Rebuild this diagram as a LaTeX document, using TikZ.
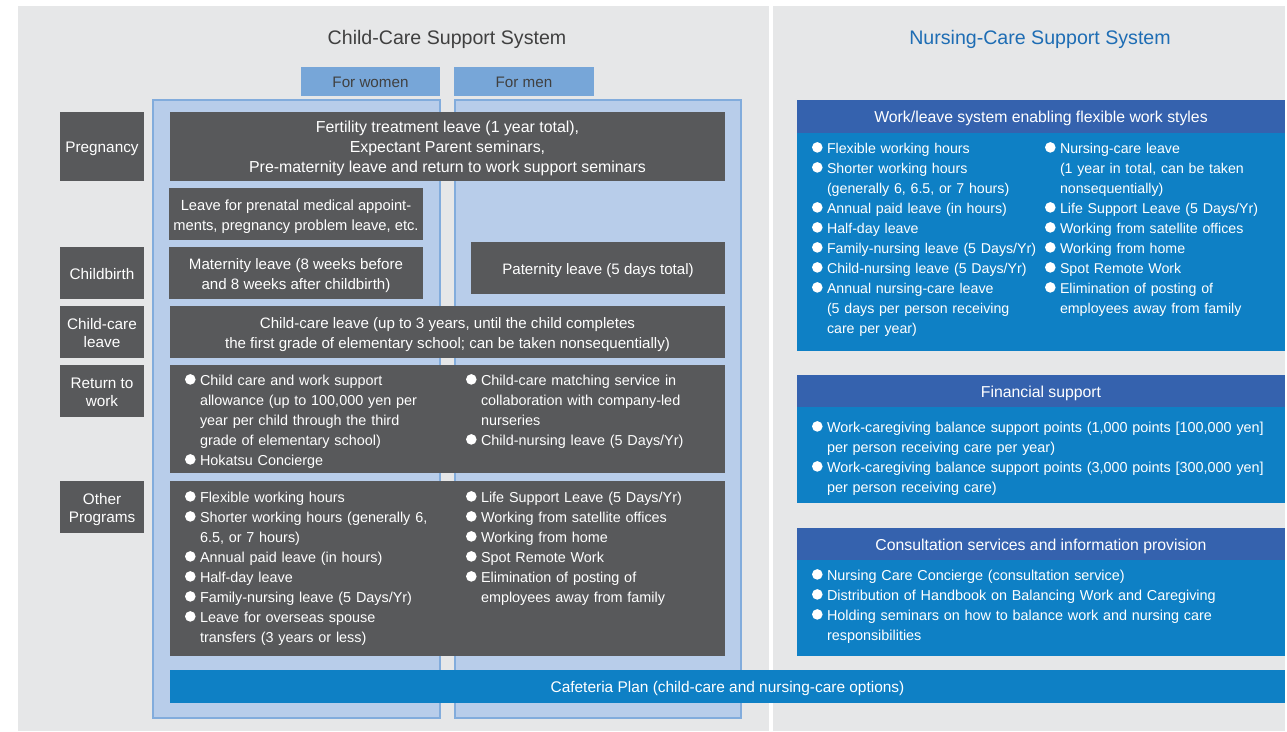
\documentclass[tikz,border=0pt]{standalone}
\usepackage{fontspec}
\setmainfont{Liberation Sans}
\definecolor{bggray}{HTML}{E6E7E8}
\definecolor{darkbox}{HTML}{58595B}
\definecolor{colfill}{HTML}{B8CDEA}
\definecolor{colline}{HTML}{82ACDC}
\definecolor{hdrblue}{HTML}{77A6D8}
\definecolor{navy}{HTML}{3562AE}
\definecolor{midblue}{HTML}{0E80C5}
\definecolor{titlegray}{HTML}{404040}
\definecolor{titleblue}{HTML}{1E6DB4}
\newcommand\fs[2]{\fontsize{#1}{#2}\selectfont}
\newcommand\bdot{\tikz[baseline=0pt]\fill[white] (5.3pt,5.6pt) circle (5.3pt);}
\newcommand\bitem[1]{\hangindent=15pt\hangafter=1\noindent\makebox[15pt][l]{\bdot}#1\par}
\newcommand\topstrut{\rule{0pt}{17pt}}
\newcommand\botstrut{\rule[-5pt]{0pt}{5pt}}
\newcommand\bx[7]{\node[#1,anchor=north west,minimum width=#5pt,minimum height=#6pt] (#2) at (#3,#4) {#7};}
\newcommand\tbx[7]{\node[#1,anchor=north west,minimum width=#5pt,minimum height=#6pt] (#2) at (#3,#4) {\topstrut#7\botstrut};}
\tikzset{
  plain/.style={inner sep=0pt,outer sep=0pt},
  bgpanel/.style={plain,fill=bggray},
  column/.style={plain,fill=colfill,draw=colline,line width=1.3pt},
  forhdr/.style={plain,fill=hdrblue,text=titlegray,font=\fs{15.2}{18}},
  dbox/.style={plain,fill=darkbox,text=white,align=center,font=\fs{15.1}{20}},
  ebox/.style={plain,fill=darkbox},
  lbox/.style={plain,fill=darkbox,text=white,align=center,font=\fs{15.3}{18}},
  nhead/.style={plain,fill=navy,text=white,font=\fs{15.8}{20}},
  nbody/.style={plain,fill=midblue},
  cafe/.style={plain,fill=midblue,text=white,font=\fs{15.45}{20}},
  blist/.style={plain,anchor=base west,text=white,align=left,font=\fs{14.4}{20}},
}
\begin{document}
\begin{tikzpicture}[x=1pt,y=-1pt]
\useasboundingbox (0,0) rectangle (1287,731);
% panels
\bx{bgpanel}{bgL}{18}{6}{751}{725}{}
\bx{bgpanel}{bgR}{773}{6}{512}{725}{}
% titles
\node[plain,anchor=base,text=titlegray,font=\fs{19.6}{24}] (tL) at (447,44) {Child-Care Support System};
\node[plain,anchor=base,text=titleblue,font=\fs{19.6}{24}] (tR) at (1040,44) {Nursing-Care Support System};
% columns
\bx{column}{colW}{153}{100}{287}{618}{}
\bx{column}{colM}{455}{100}{286}{618}{}
\tbx{forhdr}{hW}{301}{67}{139}{29}{For women}
\tbx{forhdr}{hM}{454}{67}{140}{29}{For men}
% left labels
\tbx{lbox}{lPreg}{60}{112}{84}{69}{Pregnancy}
\tbx{lbox}{lBirth}{60}{247}{84}{52}{Childbirth}
\tbx{lbox}{lCCL}{60}{306}{84}{52}{Child-care\\leave}
\tbx{lbox}{lRet}{60}{365}{84}{52}{Return to\\work}
\tbx{lbox}{lOther}{60}{481}{84}{52}{Other\\Programs}
% dark boxes
\tbx{dbox,font=\fs{15.9}{20}}{bFert}{170}{112}{555}{69}{Fertility treatment leave (1 year total),\\Expectant Parent seminars,\\Pre-maternity leave and return to work support seminars}
\tbx{dbox,font=\fs{14.7}{20}}{bPrenat}{169}{188}{254}{52}{Leave for prenatal medical appoint-\\ments, pregnancy problem leave, etc.}
\tbx{dbox}{bMat}{169}{247}{254}{52}{Maternity leave (8 weeks before\\and 8 weeks after childbirth)}
\tbx{dbox}{bPat}{471}{242}{254}{52}{Paternity leave (5 days total)}
\tbx{dbox}{bCCL}{170}{306}{555}{52}{Child-care leave (up to 3 years, until the child completes\\the first grade of elementary school; can be taken nonsequentially)}
\bx{ebox}{bRet}{170}{365}{555}{108}{}
\bx{ebox}{bOther}{170}{481}{555}{175}{}
% return to work lists
\node[blist,text width=275pt] (ret1) at (185,385) {%
\bitem{Child care and work support\newline allowance (up to 100,000 yen per\newline year per child through the third\newline grade of elementary school)}%
\bitem{Hokatsu Concierge}};
\node[blist,text width=250pt] (ret2) at (466,385) {%
\bitem{Child-care matching service in\newline collaboration with company-led\newline nurseries}%
\bitem{Child-nursing leave (5 Days/Yr)}};
% other programs lists
\node[blist,text width=275pt] (oth1) at (185,502) {%
\bitem{Flexible working hours}%
\bitem{Shorter working hours (generally 6,\newline 6.5, or 7 hours)}%
\bitem{Annual paid leave (in hours)}%
\bitem{Half-day leave}%
\bitem{Family-nursing leave (5 Days/Yr)}%
\bitem{Leave for overseas spouse\newline transfers (3 years or less)}};
\node[blist,text width=250pt] (oth2) at (466,502) {%
\bitem{Life Support Leave (5 Days/Yr)}%
\bitem{Working from satellite offices}%
\bitem{Working from home}%
\bitem{Spot Remote Work}%
\bitem{Elimination of posting of\newline employees away from family}};
% cafeteria
\tbx{cafe}{bCafe}{170}{670}{1115}{33}{Cafeteria Plan (child-care and nursing-care options)}
% right panel boxes
\tbx{nhead}{wHead}{797}{100}{488}{33}{Work/leave system enabling flexible work styles}
\bx{nbody}{wBody}{797}{133}{488}{218}{}
\tbx{nhead}{fHead}{797}{375}{488}{32}{Financial support}
\bx{nbody}{fBody}{797}{407}{488}{96}{}
\tbx{nhead}{cHead}{797}{528}{488}{32}{Consultation services and information provision}
\bx{nbody}{cBody}{797}{560}{488}{96}{}
\node[blist,text width=230pt,font=\fs{14.2}{20}] (w1) at (812,153) {%
\bitem{Flexible working hours}%
\bitem{Shorter working hours\newline (generally 6, 6.5, or 7 hours)}%
\bitem{Annual paid leave (in hours)}%
\bitem{Half-day leave}%
\bitem{Family-nursing leave (5 Days/Yr)}%
\bitem{Child-nursing leave (5 Days/Yr)}%
\bitem{Annual nursing-care leave\newline (5 days per person receiving\newline care per year)}};
\node[blist,text width=235pt,font=\fs{14.2}{20}] (w2) at (1045,153) {%
\bitem{Nursing-care leave\newline (1 year in total, can be taken\newline nonsequentially)}%
\bitem{Life Support Leave (5 Days/Yr)}%
\bitem{Working from satellite offices}%
\bitem{Working from home}%
\bitem{Spot Remote Work}%
\bitem{Elimination of posting of\newline employees away from family}};
\node[blist,text width=470pt] (f1) at (812,432) {%
\bitem{Work-caregiving balance support points (1,000 points [100,000 yen]\newline per person receiving care per year)}%
\bitem{Work-caregiving balance support points (3,000 points [300,000 yen]\newline per person receiving care)}};
\node[blist,text width=470pt] (c1) at (812,580) {%
\bitem{Nursing Care Concierge (consultation service)}%
\bitem{Distribution of Handbook on Balancing Work and Caregiving}%
\bitem{Holding seminars on how to balance work and nursing care\newline responsibilities}};
\end{tikzpicture}
\end{document}
